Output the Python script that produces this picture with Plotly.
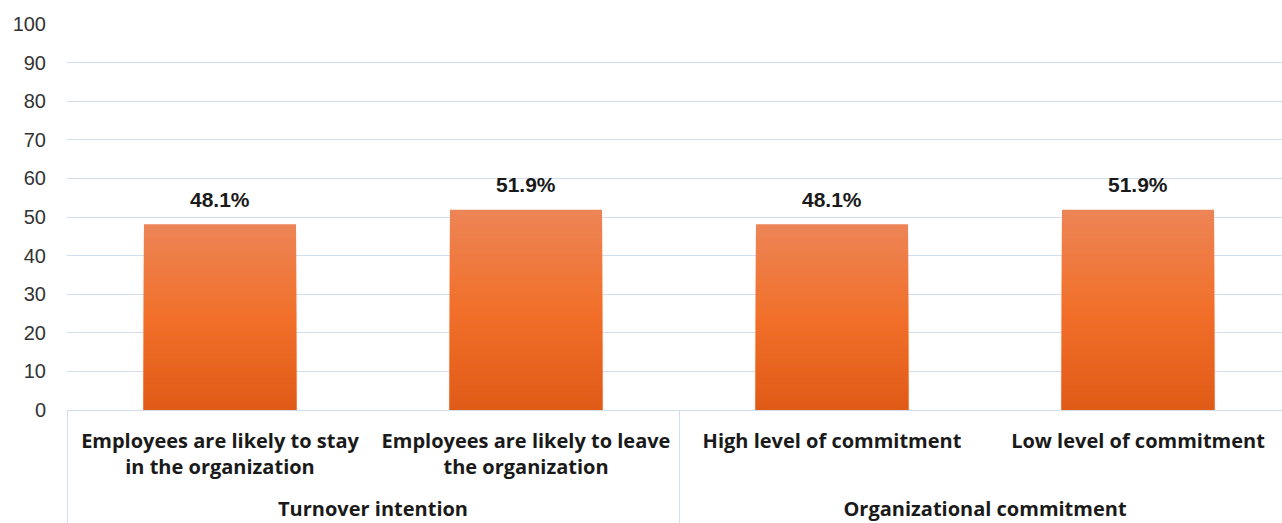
import plotly.graph_objects as go

groups = ["Turnover intention", "Turnover intention",
          "Organizational commitment", "Organizational commitment"]
categories = ["Employees are likely to stay<br>in the organization",
              "Employees are likely to leave<br>the organization",
              "High level of commitment",
              "Low level of commitment"]
values = [48.1, 51.9, 48.1, 51.9]
y_ticks = list(range(0, 101, 10))

# gradient colours (top -> middle -> bottom)
c_top = (237, 132, 86)
c_mid = (241, 112, 42)
c_bot = (224, 90, 22)


def grad(t):
    # t = 1 at top, 0 at bottom
    if t >= 0.5:
        a, b, s = c_mid, c_top, (t - 0.5) / 0.5
    else:
        a, b, s = c_bot, c_mid, t / 0.5
    return "rgb(%d,%d,%d)" % tuple(round(a[i] + (b[i] - a[i]) * s) for i in range(3))


# outer-level labels pushed down one line, as in the reference
group_labels = ["<br>" + g for g in groups]

N = 40
fig = go.Figure()
for k in range(N):
    frac = 1 - k / N
    t = 1 - (k + 0.5) / N
    fig.add_trace(go.Bar(
        x=[group_labels, categories],
        y=[v * frac for v in values],
        width=0.497,
        marker=dict(color=grad(t), line=dict(width=0)),
        hoverinfo="skip",
        showlegend=False,
    ))

for i, v in enumerate(values):
    fig.add_annotation(
        x=i, y=v, xref="x", yref="y",
        text=f"{v:.1f}%", showarrow=False,
        yanchor="middle", yshift=25,
        font=dict(family="Liberation Sans, Arial", size=21, color="#1a1a1a", weight="bold"),
    )

fig.update_layout(
    width=1282, height=523,
    margin=dict(l=67, r=0, t=24, b=113),
    paper_bgcolor="white", plot_bgcolor="white",
    barmode="overlay",
)
fig.update_xaxes(
    type="multicategory",
    range=[-0.5, 3.5 - 9 / 306],
    showgrid=False,
    showline=True, linecolor="#D0DEF0", linewidth=1,
    showdividers=True, dividercolor="#D0DEF0", dividerwidth=1,
    tickfont=dict(family="Open Sans", size=20, color="#1a1a1a", weight="bold"),
    ticks="",
    ticklabelstandoff=13,
)
fig.update_yaxes(
    range=[0, 100],
    tickvals=y_ticks,
    showgrid=True, gridcolor="#D0DEF0", gridwidth=1,
    zeroline=False, showline=False,
    tickfont=dict(family="Liberation Sans, Arial", size=20, color="#333333"),
    ticklabelstandoff=20,
)
fig.write_html("out.html")
